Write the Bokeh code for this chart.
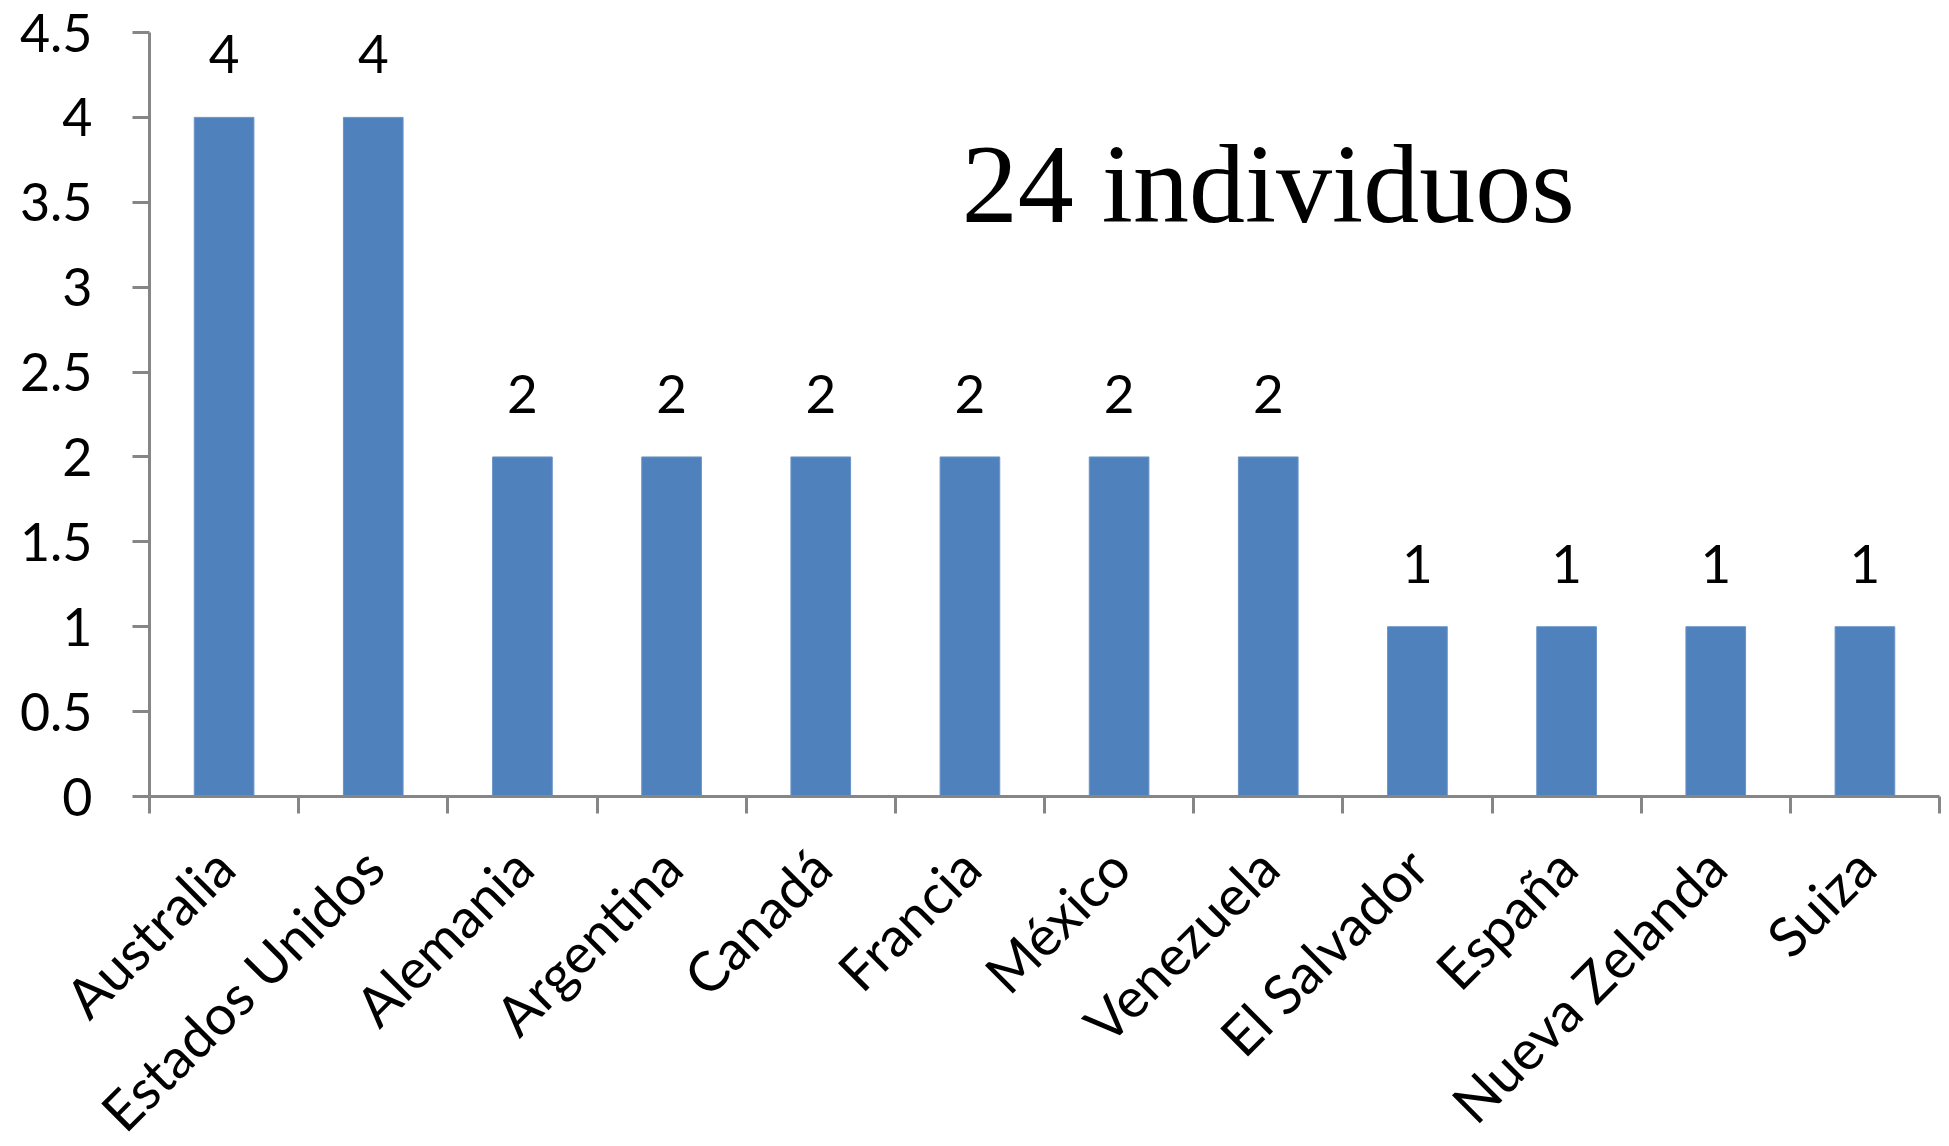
import math
from bokeh.plotting import figure
from bokeh.models import (ColumnDataSource, FixedTicker, CustomJSTickFormatter,
                          Label, Range1d)
from bokeh.core.properties import value
from bokeh.embed import file_html
from bokeh.resources import INLINE

categories = ["Australia", "Estados Unidos", "Alemania", "Argentina", "Canadá",
              "Francia", "México", "Venezuela", "El Salvador", "España",
              "Nueva Zelanda", "Suiza"]
counts = [4, 4, 2, 2, 2, 2, 2, 2, 1, 1, 1, 1]
y_ticks = [0, 0.5, 1, 1.5, 2, 2.5, 3, 3.5, 4, 4.5]
annotation = "24 individuos"

n = len(categories)
xs = [i + 0.5 for i in range(n)]
src = ColumnDataSource(dict(x=xs, top=counts, lbl=[str(c) for c in counts]))

p = figure(frame_width=1790, frame_height=764,
           x_range=Range1d(0, n), y_range=Range1d(0, max(y_ticks)),
           output_backend="svg", toolbar_location=None,
           min_border_left=149, min_border_right=10,
           min_border_top=32, min_border_bottom=350)

p.vbar(x="x", top="top", width=0.4, source=src,
       fill_color="#4F81BD", line_color="#6A93C8", line_width=1)

p.text(x="x", y="top", text="lbl", source=src, text_align="center",
       text_baseline="alphabetic", y_offset=-63,
       text_font=value("Lato"), text_font_size="53px", text_color="black")

p.add_layout(Label(x=7.5, y=3.61, text=annotation, text_align="center",
                   text_baseline="alphabetic", text_font="Liberation Serif",
                   text_font_size="112px", text_color="black"))

p.xgrid.visible = False
p.ygrid.visible = False
p.outline_line_color = None
p.background_fill_color = "white"
p.border_fill_color = "white"

axis_col = "#868686"
# x axis
xa = p.xaxis[0]
xa.ticker = FixedTicker(ticks=xs, minor_ticks=list(range(n + 1)))
xa.formatter = CustomJSTickFormatter(args=dict(cats=categories),
                                     code="return cats[Math.floor(tick)]")
xa.major_label_orientation = math.pi / 4
xa.major_tick_line_color = None
xa.minor_tick_in = 0
xa.minor_tick_out = 17
xa.minor_tick_line_color = axis_col
xa.minor_tick_line_width = 3
xa.axis_line_color = axis_col
xa.axis_line_width = 3
xa.major_label_text_font = "Lato"
xa.major_label_text_font_size = "55px"
xa.major_label_text_color = "black"
xa.major_label_standoff = 44

# y axis
ya = p.yaxis[0]
ya.ticker = FixedTicker(ticks=y_ticks)
ya.formatter = CustomJSTickFormatter(code="return String(tick)")
ya.major_tick_in = 0
ya.major_tick_out = 17
ya.major_tick_line_color = axis_col
ya.major_tick_line_width = 3
ya.minor_tick_line_color = None
ya.axis_line_color = axis_col
ya.axis_line_width = 3
ya.major_label_text_font = "Lato"
ya.major_label_text_font_size = "52px"
ya.major_label_text_color = "black"
ya.major_label_standoff = 40

open("out.html", "w").write(file_html(p, INLINE))
